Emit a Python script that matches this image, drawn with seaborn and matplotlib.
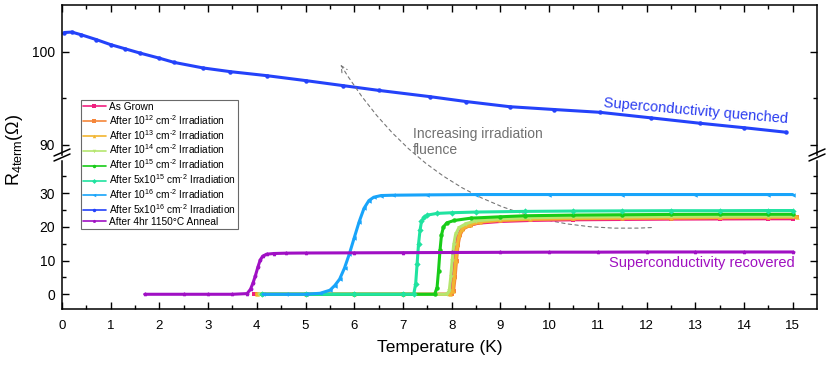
import pandas as pd
import seaborn as sns
import matplotlib.pyplot as plt
from matplotlib.lines import Line2D

# values: temperature (K) and R_4term (Ohm)
labels = ['As Grown',
          'After 10$^{12}$ cm$^{‐2}$ Irradiation',
          'After 10$^{13}$ cm$^{‐2}$ Irradiation',
          'After 10$^{14}$ cm$^{‐2}$ Irradiation',
          'After 10$^{15}$ cm$^{‐2}$ Irradiation',
          'After 5x10$^{15}$ cm$^{‐2}$ Irradiation',
          'After 10$^{16}$ cm$^{‐2}$ Irradiation',
          'After 5x10$^{16}$ cm$^{‐2}$ Irradiation',
          'After 4hr 1150°C Anneal']
colors = ['#f0207f', '#f5863a', '#f2b530', '#b5e66e', '#18cc18',
          '#20e3a0', '#18a4fa', '#2442fa', '#a010c4']
markers = ['s', 's', '^', 'v', 'o', 'D', '<', 'o', 'p']

t_grown = [3.95, 5.0, 6.0, 7.0, 7.95, 8.0, 8.03, 8.06, 8.09, 8.13, 8.2, 8.35, 8.55,
           9.0, 9.6, 10.5, 11.5, 12.5, 13.5, 14.5, 15.0]
r_grown = [0, 0, 0, 0, 0, 1.0, 5.0, 10.0, 14.5, 17.5, 19.2, 20.4, 21.1,
           21.6, 21.9, 22.1, 22.2, 22.3, 22.35, 22.4, 22.4]

t_e12 = [4.0, 5.0, 6.0, 7.0, 8.0, 8.04, 8.07, 8.1, 8.13, 8.17, 8.24, 8.4, 8.6,
         9.0, 9.6, 10.5, 11.5, 12.5, 13.5, 14.5, 15.08]
r_e12 = [0, 0, 0, 0, 0, 1.0, 5.0, 10.0, 14.5, 17.5, 19.4, 20.6, 21.4,
         21.9, 22.2, 22.4, 22.5, 22.6, 22.7, 22.8, 22.9]

t_e13 = [4.0, 5.0, 6.0, 7.0, 7.97, 8.02, 8.05, 8.08, 8.11, 8.15, 8.22, 8.38, 8.58,
         9.0, 9.6, 10.5, 11.5, 12.5, 13.5, 14.5, 15.08]
r_e13 = [0, 0, 0, 0, 0, 1.0, 5.0, 10.0, 14.5, 17.5, 19.5, 20.7, 21.5,
         22.0, 22.3, 22.5, 22.6, 22.7, 22.8, 22.9, 22.9]

t_e14 = [4.05, 5.0, 6.0, 7.0, 7.9, 7.95, 7.98, 8.01, 8.04, 8.08, 8.15, 8.3, 8.5,
         9.0, 9.6, 10.5, 11.5, 12.5, 13.5, 14.5, 15.0]
r_e14 = [0, 0, 0, 0, 0, 1.0, 5.0, 10.0, 14.5, 17.8, 19.8, 21.0, 21.8,
         22.4, 22.7, 22.9, 23.0, 23.1, 23.15, 23.2, 23.2]

t_e15 = [4.1, 5.0, 6.0, 7.0, 7.65, 7.7, 7.73, 7.76, 7.79, 7.83, 7.9, 8.05, 8.4,
         9.0, 9.5, 10.5, 11.5, 12.5, 13.5, 14.5, 15.0]
r_e15 = [0, 0, 0, 0, 0, 2.0, 7.0, 13.0, 17.5, 20.0, 21.2, 21.9, 22.6,
         23.0, 23.3, 23.5, 23.6, 23.7, 23.75, 23.75, 23.75]

t_5e15 = [4.1, 5.0, 6.0, 7.0, 7.22, 7.26, 7.29, 7.32, 7.35, 7.38, 7.43, 7.5, 7.7,
          8.0, 8.5, 9.5, 10.5, 11.5, 12.5, 13.5, 14.5, 15.0]
r_5e15 = [0, 0, 0, 0, 0, 3.0, 9.0, 15.0, 19.0, 21.6, 22.8, 23.5, 24.0,
          24.2, 24.4, 24.6, 24.7, 24.75, 24.8, 24.8, 24.85, 24.85]

t_e16 = [4.13, 4.6, 5.0, 5.3, 5.5, 5.6, 5.7, 5.8, 5.9, 6.0, 6.1, 6.2, 6.3, 6.4,
         6.55, 6.8, 7.5, 8.5, 10.0, 11.5, 13.0, 14.5, 15.0]
r_e16 = [0, 0, 0, 0.3, 1.2, 2.6, 4.5, 7.8, 12.0, 16.8, 21.5, 25.5, 27.8, 28.8,
         29.3, 29.4, 29.5, 29.6, 29.6, 29.6, 29.6, 29.6, 29.6]

t_5e16 = [0.05, 0.2, 0.4, 0.7, 1.0, 1.3, 1.6, 2.0, 2.3, 2.9, 3.45, 4.2, 5.0, 5.77,
          6.5, 7.55, 8.3, 9.19, 10.1, 11.04, 12.1, 13.09, 14.0, 14.87]
r_5e16 = [102.05, 102.1, 101.8, 101.3, 100.75, 100.3, 99.85, 99.3, 98.85, 98.25,
          97.86, 97.43, 96.9, 96.36, 95.85, 95.18, 94.65, 94.1, 93.8, 93.5, 92.9,
          92.33, 91.85, 91.36]

t_anneal = [1.7, 2.5, 3.0, 3.5, 3.8, 3.87, 3.92, 3.97, 4.02, 4.07, 4.12, 4.2, 4.35,
            4.6, 5.0, 6.0, 7.0, 8.0, 9.0, 10.0, 11.0, 12.0, 13.0, 14.0, 15.0]
r_anneal = [0, 0, 0, 0, 0.2, 1.5, 3.3, 5.5, 8.0, 10.2, 11.3, 11.9, 12.1,
            12.2, 12.25, 12.3, 12.35, 12.4, 12.45, 12.5, 12.5, 12.55, 12.55, 12.55, 12.55]

temps = [t_grown, t_e12, t_e13, t_e14, t_e15, t_5e15, t_e16, t_5e16, t_anneal]
resist = [r_grown, r_e12, r_e13, r_e14, r_e15, r_5e15, r_e16, r_5e16, r_anneal]

#long table for seaborn
frames = []
for lab, t, r in zip(labels, temps, resist):
    frames.append(pd.DataFrame({'T': t, 'R': r, 'sample': lab}))
df = pd.concat(frames, ignore_index=True)

sns.set_style('ticks')
plt.rcParams['font.family'] = ['Liberation Sans', 'DejaVu Sans']
plt.rcParams['mathtext.default'] = 'regular'
for key in ('text.color', 'axes.labelcolor', 'xtick.color', 'ytick.color'):
    plt.rcParams[key] = 'black'

fig = plt.figure(figsize=(8.3, 3.65), dpi=100)
W, H = 830, 365
x0, x1 = 62, 817
ax_top = fig.add_axes([x0 / W, 1 - 155.5 / H, (x1 - x0) / W, (155.5 - 5) / H])
ax_bot = fig.add_axes([x0 / W, 1 - 309 / H, (x1 - x0) / W, (309 - 160.5) / H])

for ax in (ax_bot, ax_top):
    sns.lineplot(data=df, x='T', y='R', hue='sample', style='sample',
                 hue_order=labels, style_order=labels,
                 palette=dict(zip(labels, colors)), markers=dict(zip(labels, markers)),
                 dashes=False, estimator=None, sort=False, legend=False,
                 lw=2.2, ms=3.2, mew=0, ax=ax)
    ax.set_facecolor('none')
    ax.set_xlim(0, 15.5)
    ax.set_xlabel('')
    ax.set_ylabel('')
    for s in ax.spines.values():
        s.set_linewidth(1.1)
        s.set_color('black')

ax_top.set_ylim(88.87, 105.0)
ax_bot.set_ylim(-4.37, 39.7)

ax_top.spines['bottom'].set_visible(False)
ax_bot.spines['top'].set_visible(False)

ax_top.set_yticks([90, 100])
ax_top.set_yticks([95], minor=True)
ax_bot.set_yticks([0, 10, 20, 30])
ax_bot.set_yticks([5, 15, 25, 35], minor=True)
for ax in (ax_top, ax_bot):
    ax.set_xticks(range(0, 16))
    ax.set_xticks([i + 0.5 for i in range(0, 15)], minor=True)
    ax.tick_params(which='both', direction='in', width=1.0, right=True, labelsize=10,
                   pad=5, colors='black')
    ax.tick_params(which='major', length=5)
    ax.tick_params(which='minor', length=2.7)

ax_top.tick_params(axis='x', which='both', top=True, bottom=False, labelbottom=False)
ax_bot.tick_params(axis='x', which='both', top=False, bottom=True, pad=8, labelsize=9.5)

ax_bot.set_xlabel('Temperature (K)', fontsize=12.5, labelpad=6)
fig.text(0.018, 0.59, 'R$_{4term}$(Ω)', rotation=90, fontsize=13, ha='center', va='center')

# axis break marks
def px(x, y):
    return (x / W, 1 - y / H)

for xc in (x0, x1):
    for dy in (0, 5):
        a = px(xc - 8, 161 + dy - 5)
        b = px(xc + 8, 154 + dy - 5)
        fig.add_artist(Line2D([a[0], b[0]], [a[1], b[1]], color='black', lw=1.1))

# annotations
ax_top.annotate('', xy=(5.72, 98.6), xycoords='data',
                xytext=(12.1, 19.8), textcoords=ax_bot.transData,
                arrowprops=dict(arrowstyle='->,head_length=0.45,head_width=0.22',
                                ls=(0, (3, 3)), color='#777777', lw=0.8,
                                connectionstyle='arc3,rad=-0.3', shrinkA=0, shrinkB=0),
                annotation_clip=False)
ax_top.text(7.2, 91.96, 'Increasing irradiation\nfluence', color='#707070',
            fontsize=10, ha='left', va='top', linespacing=1.2)
ax_top.text(13.01, 93.64, 'Superconductivity quenched', color='#2a3cf0',
            fontsize=10.5, ha='center', va='center', rotation=-5)
ax_bot.text(13.13, 9.3, 'Superconductivity recovered', color='#a010c0',
            fontsize=10.5, ha='center', va='center')

# legend
handles = [Line2D([], [], color=c, marker=m, lw=1.2, ms=2.5, mew=0)
           for c, m in zip(colors, markers)]
leg = fig.legend(handles, labels, loc='upper left', bbox_to_anchor=px(80.7, 100),
                 bbox_transform=fig.transFigure, fontsize=7.3, frameon=True,
                 fancybox=False, borderaxespad=0, borderpad=0.2, labelspacing=0.1,
                 handlelength=2.3, handletextpad=0.3)
leg.get_frame().set_edgecolor('#444444')
leg.get_frame().set_linewidth(0.8)

fig.savefig('out.png', dpi=100)
